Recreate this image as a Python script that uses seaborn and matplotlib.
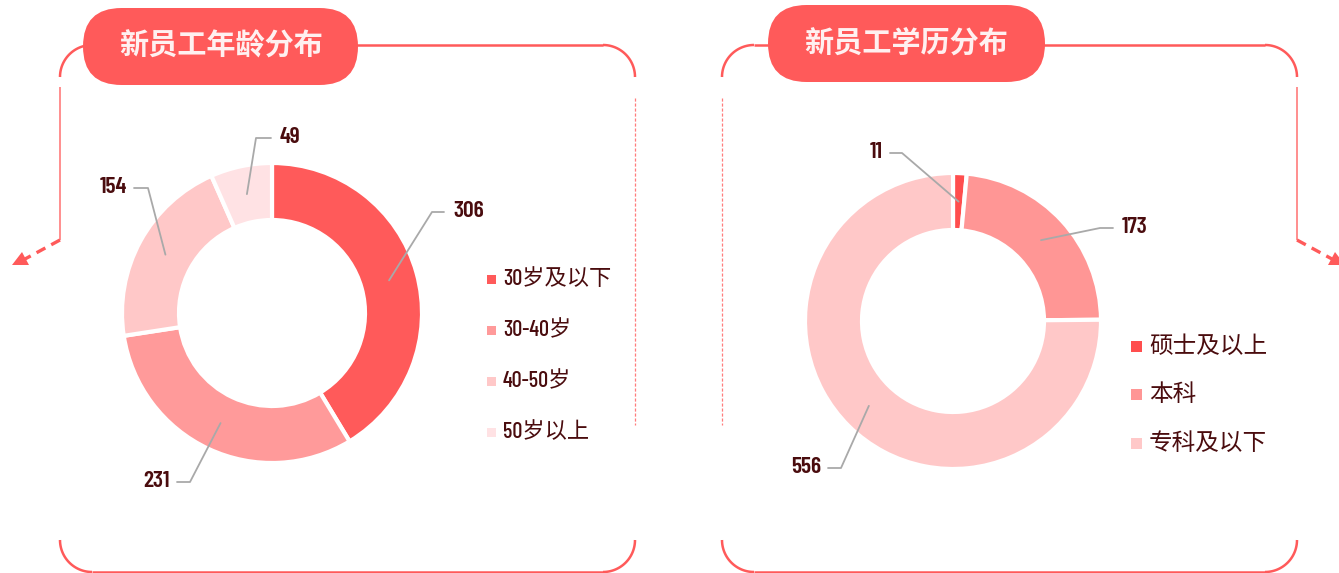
import numpy as np
import matplotlib
matplotlib.use("Agg")
import matplotlib.pyplot as plt
import seaborn as sns
from matplotlib.patches import FancyBboxPatch, Rectangle, Polygon

# ---------------- data ----------------
titles = ["新员工年龄分布", "新员工学历分布"]
age_labels = ["30岁及以下", "30-40岁", "40-50岁", "50岁以上"]
age_values = [306, 231, 154, 49]
edu_labels = ["硕士及以上", "本科", "专科及以下"]
edu_values = [11, 173, 556]

age_colors = ["#FF5A5A", "#FF9A9A", "#FFC8C8", "#FFE2E4"]
edu_colors = ["#FF4E4E", "#FF9695", "#FFC8C8"]

# ---------------- style ----------------
sns.set_theme(style="white")
NUM_FONT = ['Barlow Condensed', 'Noto Sans CJK SC', 'DejaVu Sans']
CJK_FONT = ['Noto Sans CJK SC', 'DejaVu Sans']
plt.rcParams['font.family'] = NUM_FONT

W, H = 1339, 573
RED = "#FF5A5A"
TXT = "#4A0C0E"
LEAD = "#A9A9A9"

fig = plt.figure(figsize=(W / 100, H / 100), dpi=100)
ax = fig.add_axes([0, 0, 1, 1])


def Y(y):
    return H - y


def line(xs, ys, **kw):
    ax.plot(list(xs), [Y(v) for v in ys], solid_capstyle='butt', **kw)


def arc(cx, cy, r, t0, t1, **kw):
    t = np.radians(np.linspace(t0, t1, 50))
    line(cx + r * np.cos(t), cy + r * np.sin(t), **kw)


def frame(x0, x1, arrow_side):
    r = 32
    kw = dict(color=RED, lw=1.8)
    arc(x0 + r, 77, r, 180, 270, **kw)
    line([x0 + r, x1 - r], [45, 45], **kw)
    arc(x1 - r, 77, r, 270, 360, **kw)
    arc(x0 + r, 540, r, 90, 180, **kw)
    line([x0 + r, x1 - r], [572, 572], **kw)
    arc(x1 - r, 540, r, 0, 90, **kw)
    if arrow_side == 'left':
        solid_x, dash_x, sgn = x0, x1, -1
    else:
        solid_x, dash_x, sgn = x1, x0, 1
    line([solid_x, solid_x], [87, 240], color="#FF7C7C", lw=1.2)
    tip_x = solid_x + sgn * 48
    line([solid_x, solid_x + sgn * 35], [240, 259], color=RED, lw=2.4,
         dashes=(3, 2))
    ax.add_patch(Polygon([(tip_x, Y(265)), (tip_x - sgn * 10, Y(252)),
                          (tip_x - sgn * 17, Y(265))], closed=True,
                         color=RED, lw=0))
    line([dash_x, dash_x], [98, 425], color="#FF7C7C", lw=0.9,
         dashes=(2.5, 1.5))


frame(60, 635, 'left')
frame(722, 1297, 'right')

# title pills
for (px, py, pw, ph), title, tx, ty in [((83, 8, 275, 77), titles[0], 221, 46),
                                         ((768, 5, 277, 77), titles[1], 906, 43)]:
    ax.add_patch(FancyBboxPatch((px, Y(py + ph)), pw, ph,
                                boxstyle=f"round,pad=0,rounding_size={ph / 2}",
                                fc=RED, ec='none', zorder=3))
    ax.text(tx, Y(ty), title, ha='center', va='center', fontsize=21,
            fontweight='bold', color="#FFF0F0", family=CJK_FONT, zorder=4)


def donut(values, colors, center, r_out, r_in, leaders):
    cx, cy = center
    wedges, _ = ax.pie(values, colors=colors, startangle=90,
                       counterclock=False, radius=r_out, center=(cx, Y(cy)),
                       wedgeprops=dict(width=r_out - r_in, edgecolor='white',
                                       linewidth=3))
    rm = (r_out + r_in) / 2
    for w, v, (ex, ey, hx, side) in zip(wedges, values, leaders):
        th = np.radians((w.theta1 + w.theta2) / 2)
        axp, ayp = cx + rm * np.cos(th), Y(cy) + rm * np.sin(th)
        ax.plot([axp, ex, hx], [ayp, Y(ey), Y(ey)], color=LEAD, lw=1.3,
                zorder=5)
        ha = 'left' if side == 'right' else 'right'
        off = 9 if side == 'right' else -7
        ax.text(hx + off, Y(ey) + 1, str(v), ha=ha, va='center',
                fontsize=17, fontweight='semibold', color=TXT,
                family=NUM_FONT, zorder=5)


donut(age_values, age_colors, (272, 313), 150, 93,
      [(432, 212, 444, 'right'), (190, 482, 177, 'left'),
       (148, 188, 134, 'left'), (256, 138, 271, 'right')])
donut(edu_values, edu_colors, (953, 321), 148, 91,
      [(902, 153, 890, 'left'), (1100, 228, 1113, 'right'),
       (841, 468, 828, 'left')])


def legend(labels, colors, x, y0, dy, sq, fs):
    for i, (lab, col) in enumerate(zip(labels, colors)):
        yy = y0 + i * dy
        ax.add_patch(Rectangle((x - sq / 2, Y(yy) - sq / 2), sq, sq,
                               fc=col, ec='none'))
        ax.text(x + sq / 2 + 7, Y(yy), lab, ha='left', va='center',
                fontsize=fs, fontweight='medium', color=TXT, family=NUM_FONT)


legend(age_labels, age_colors, 491.5, 279, 51, 9, 16)
legend(edu_labels, edu_colors, 1136.5, 346, 48.5, 11, 17)

ax.set_xlim(0, W)
ax.set_ylim(0, H)
ax.set_aspect('auto')
ax.axis('off')
fig.savefig("out.png", dpi=100, facecolor='white')
